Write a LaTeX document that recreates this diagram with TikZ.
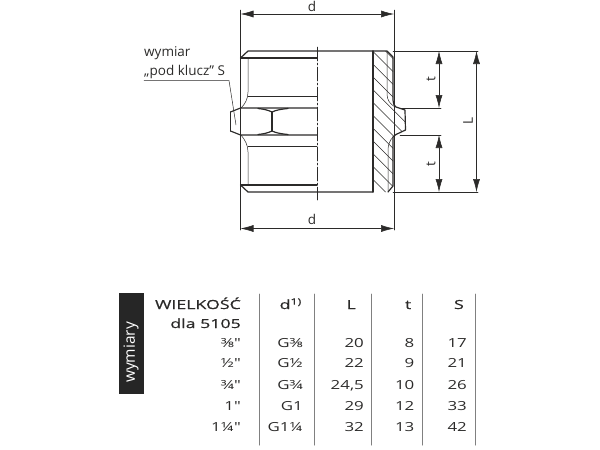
\documentclass[tikz,border=0pt]{standalone}
\usepackage{fontspec}
\setmainfont{Open Sans}
\newfontfamily\widefont[FakeStretch=1.35]{Open Sans}
\newfontfamily\headfont[FakeStretch=1.42,FakeBold=0.7]{Open Sans}
\usetikzlibrary{arrows.meta}
\definecolor{inkgray}{HTML}{2B2A29}
\tikzset{
    outline/.style={draw=inkgray, line width=1.2pt},
    thin line/.style={draw=inkgray, line width=0.5pt},
    dim/.style={draw=inkgray, line width=0.55pt, {Latex[length=13pt,width=7pt]}-{Latex[length=13pt,width=7pt]}},
    label/.style={text=inkgray, font=\fontsize{13.5}{15}\selectfont, inner sep=0pt},
    cell/.style={text=inkgray, font=\widefont\fontsize{12.5}{14}\selectfont, inner sep=0pt, anchor=base east},
    head/.style={cell, font=\headfont\fontsize{12.5}{14}\selectfont},
}
\begin{document}
\begin{tikzpicture}[x=1pt, y=-1pt, line cap=round, line join=round]
    \useasboundingbox (0,0) rectangle (600,450);

    % section of the wall
    \begin{scope}
        \clip (373,51) -- (387,51) -- (393,57) -- (393,100) .. controls (393.5,104) and (394,106) .. (396,107)
            -- (405,110) -- (405.5,130) -- (396,134.5) -- (393,137)
            -- (393,186) -- (388,192) -- (373,192) -- cycle;
        \foreach \k in {-4,...,16}
            \draw[thin line] (360,{\k*12.8}) -- (420,{\k*12.8+60});
    \end{scope}
    \draw[outline] (373,51) -- (387,51) -- (393,57) -- (393,100) .. controls (393.5,104) and (394,106) .. (396,107)
        -- (405,110) -- (405.5,130) -- (396,134.5) -- (393,137)
        -- (393,186) -- (388,192);
    \draw[thin line] (387,51) -- (387,94) .. controls (387,100) and (390,104) .. (395,107);
    \draw[thin line] (388,192) -- (388,150) .. controls (388,145) and (390,140) .. (393,137);

    % body
    \draw[outline] (373,51) -- (373,192);
    \draw[outline] (240.5,58) -- (248,51) -- (373,51);
    \draw[outline] (240.5,185) -- (248,192) -- (373,192);
    \draw[outline] (240.5,58) -- (317,58);
    \draw[outline] (240.5,185) -- (317,185);
    \draw[outline] (240.5,58) -- (240.5,108);
    \draw[outline] (240.5,135) -- (240.5,185);
    \draw[thin line] (248,58) -- (248,92) .. controls (248,99) and (245,104) .. (241,108);
    \draw[thin line] (248,185) -- (248,152) .. controls (248,145) and (245,140) .. (241,135);
    \draw[thin line] (248,96) -- (317,96);
    \draw[thin line] (248,146) -- (317,146);

    % hexagon
    \draw[outline] (230.5,112) -- (240.5,108) -- (317,108);
    \draw[outline] (230.5,131) -- (240.5,135) -- (317,135);
    \draw[outline] (230.5,112) -- (230.5,131);
    \draw[outline] (272,112) -- (272,131);
    \draw[outline] (258,108.5) .. controls (263,109) and (268,110) .. (272,112) .. controls (276,110) and (282,109) .. (288,108.5);
    \draw[outline] (258,134.5) .. controls (263,134) and (268,133) .. (272,131) .. controls (276,133) and (282,134) .. (288,134.5);

    % axis
    \draw[thin line, dash pattern=on 14pt off 2pt on 2pt off 2pt] (317,47) -- (317,200);

    % extension lines
    \draw[thin line] (240.5,10) -- (240.5,230);
    \draw[thin line] (394,10) -- (394,230);
    \draw[thin line] (393,51) -- (478,51);
    \draw[thin line] (393,192) -- (478,192);
    \draw[thin line] (400,108) -- (441,108);
    \draw[thin line] (400,135) -- (441,135);

    % dimensions
    \coordinate (dTopL) at (240.5,14);
    \coordinate (dTopR) at (394,14);
    \coordinate (dBotL) at (240.5,228.5);
    \coordinate (dBotR) at (394,228.5);
    \coordinate (tTopA) at (439,51);
    \coordinate (tTopB) at (439,108);
    \coordinate (tBotA) at (439,135);
    \coordinate (tBotB) at (439,192);
    \coordinate (lenA) at (476.5,51);
    \coordinate (lenB) at (476.5,192);
    \draw[dim] (dTopL) -- (dTopR);
    \draw[dim] (dBotL) -- (dBotR);
    \draw[dim] (tTopA) -- (tTopB);
    \draw[dim] (tBotA) -- (tBotB);
    \draw[dim] (lenA) -- (lenB);

    \node[label] (dTop) at (312,6) {d};
    \node[label] (dBot) at (312,219) {d};
    \node[label, rotate=90] (tTop) at (431,79) {t};
    \node[label, rotate=90] (tBot) at (431,164) {t};
    \node[label, rotate=90] (lenL) at (468,121) {L};

    % wrench size note
    \node[label, anchor=base west] (noteA) at (144,56) {wymiar};
    \node[label, anchor=base west] (noteB) at (144,75) {„pod klucz” S};
    \coordinate (noteC) at (144,80.5);
    \coordinate (noteD) at (229,80.5);
    \coordinate (noteE) at (236,125);
    \draw[thin line] (noteC) -- (noteD) -- (noteE);

    % table
    \fill[black!85] (119,293) rectangle (143.5,394);
    \node[rotate=90, text=white, font=\fontsize{15.5}{17}\selectfont, inner sep=0pt] (side) at (131,352.5) {wymiary};
    \foreach \x in {259,314,371,422.5,475}
        \draw[draw=gray, line width=1pt] (\x,294) -- (\x,445);

    \node[head] (hSize) at (241,309) {WIELKOŚĆ};
    \node[head] (hFor) at (241,328) {dla 5105};
    \node[head] (hD) at (302,309) {d\textsuperscript{1)}};
    \node[head] (hL) at (356,309) {L};
    \node[head] (hT) at (411.5,309) {t};
    \node[head] (hS) at (464,309) {S};

    \foreach \y/\size/\thread/\len/\tt/\wr in {
        347/⅜"/G⅜/20/8/17,
        367.5/½"/G½/22/9/21,
        389/¾"/G¾/{24,5}/10/26,
        410.5/1"/G1/29/12/33,
        431.5/1¼"/G1¼/32/13/42}
    {
        \node[cell] at (241,\y) {\size};
        \node[cell] at (303,\y) {\thread};
        \node[cell] at (364,\y) {\len};
        \node[cell] at (414.5,\y) {\tt};
        \node[cell] at (467,\y) {\wr};
    }
\end{tikzpicture}
\end{document}
